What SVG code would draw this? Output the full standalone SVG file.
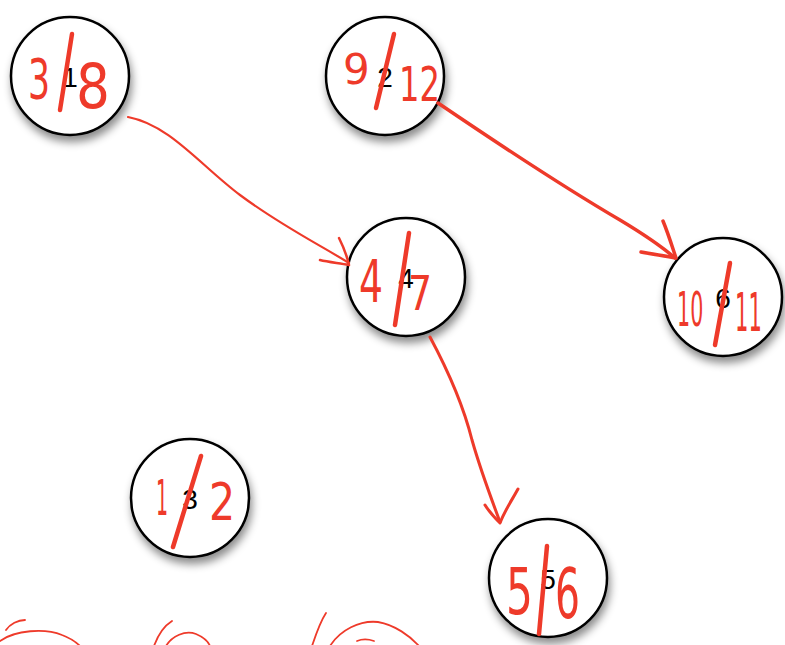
<svg xmlns="http://www.w3.org/2000/svg" width="785" height="645" viewBox="0 0 785 645">
<defs>
<filter id="sh" x="-30%" y="-30%" width="160%" height="160%">
<feDropShadow dx="2" dy="6" stdDeviation="4" flood-color="#000" flood-opacity="0.45"/>
</filter>
<style>
.node circle{fill:#fff;stroke:#000;stroke-width:2.5;filter:url(#sh)}
.lbl{font-family:"Liberation Sans",Arial,sans-serif;font-size:28px;fill:#000;text-anchor:middle}
.hw{font-family:"DejaVu Sans","Noto Sans",sans-serif;fill:#ee3a2a}
.sl{stroke:#ee3a2a;stroke-width:4.5;stroke-linecap:round;fill:none}
.red{stroke:#ee3a2a;fill:none;stroke-linecap:round;stroke-linejoin:round}
</style>
</defs>
<g id="node1" class="node">
<circle cx="70" cy="76" r="59"/>
<text class="lbl" x="70" y="87">1</text>
<text class="hw" font-size="55" transform="translate(28,98) scale(0.63,1)">3</text>
<line class="sl" x1="72" y1="34" x2="60" y2="110"/>
<text class="hw" font-size="62" transform="translate(76,108) scale(0.86,1)">8</text>
</g>
<g id="node2" class="node">
<circle cx="385" cy="76" r="59"/>
<text class="lbl" x="385" y="87">2</text>
<text class="hw" font-size="42" transform="translate(343,84)">9</text>
<line class="sl" x1="394" y1="34" x2="376" y2="108"/>
<text class="hw" font-size="48" transform="translate(399,101) scale(0.67,1)">12</text>
</g>
<g id="node4" class="node">
<circle cx="406" cy="277" r="59"/>
<text class="lbl" x="406" y="288">4</text>
<text class="hw" font-size="58" transform="translate(359,302) scale(0.65,1)">4</text>
<line class="sl" x1="409" y1="233" x2="395" y2="325"/>
<text class="hw" font-size="48" transform="translate(408,310) scale(0.79,1)">7</text>
</g>
<g id="node6" class="node">
<circle cx="723" cy="297" r="59"/>
<text class="lbl" x="723" y="308">6</text>
<text class="hw" font-size="48" transform="translate(677,326) scale(0.43,1)">10</text>
<line class="sl" x1="730" y1="263" x2="715" y2="345"/>
<text class="hw" font-size="54" transform="translate(735,331) scale(0.39,1)">11</text>
</g>
<g id="node3" class="node">
<circle cx="190" cy="498" r="59"/>
<text class="lbl" x="190" y="509">3</text>
<text class="hw" font-size="50" transform="translate(156,515) scale(0.38,1)">1</text>
<line class="sl" x1="201" y1="456" x2="173" y2="547"/>
<text class="hw" font-size="52" transform="translate(209,520) scale(0.79,1)">2</text>
</g>
<g id="node5" class="node">
<circle cx="548" cy="578" r="59"/>
<text class="lbl" x="548" y="589">5</text>
<text class="hw" font-size="64" transform="translate(506,614) scale(0.66,1)">5</text>
<line class="sl" x1="547" y1="546" x2="539" y2="634"/>
<text class="hw" font-size="70" transform="translate(555,618) scale(0.56,1)">6</text>
</g>
<g id="connectors">
<path class="red" stroke-width="2.2" d="M128,117 C170,125 200,165 240,195 C280,225 320,245 349,263"/>
<path class="red" stroke-width="2.5" d="M339,238 C344,248 347,256 349,265 C338,263 328,262 320,260"/>
<path class="red" stroke-width="3.5" d="M438,103 C500,145 560,185 620,220 C640,232 660,245 675,258"/>
<path class="red" stroke-width="3.5" d="M663,221 C668,233 672,246 676,258 C665,256 652,254 641,252"/>
<path class="red" stroke-width="3" d="M430,337 C445,365 462,400 472,440 C482,475 492,500 500,522"/>
<path class="red" stroke-width="3" d="M485,505 C490,513 495,518 500,523 C505,510 512,500 518,489"/>
</g>
<g id="scribbles">
<path class="red" stroke-width="1.8" d="M0,641 C15,630 45,628 62,635 C70,638 76,642 80,646"/>
<path class="red" stroke-width="1.8" d="M6,630 C10,624 18,620 25,620"/>
<path class="red" stroke-width="1.8" d="M154,646 C158,635 164,626 172,621"/>
<path class="red" stroke-width="1.8" d="M166,646 C172,636 185,630 196,634 C203,637 208,641 210,646"/>
<path class="red" stroke-width="1.8" d="M312,646 C316,634 320,622 326,613"/>
<path class="red" stroke-width="1.8" d="M330,646 C340,630 360,620 378,622 C395,625 410,636 419,646"/>
<path class="red" stroke-width="1.8" d="M357,641 C362,639 368,639 374,641"/>
</g>
</svg>
